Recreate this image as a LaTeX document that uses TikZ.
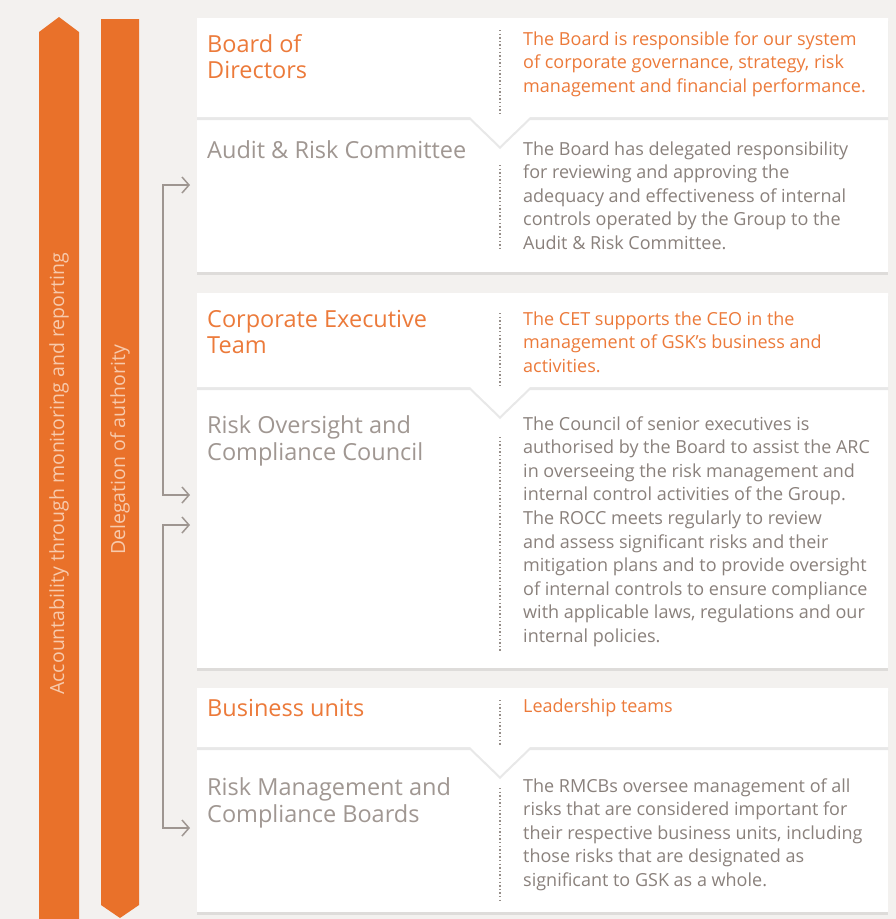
\documentclass[tikz,border=0pt]{standalone}
\usepackage{fontspec}
\setmainfont{Open Sans}
\usepackage{tikz}
\usetikzlibrary{arrows.meta, positioning, shadows}
\definecolor{gskorange}{RGB}{233,113,42}
\definecolor{titleorange}{RGB}{236,122,58}
\definecolor{titlegray}{RGB}{160,151,146}
\definecolor{descgray}{RGB}{138,129,124}
\definecolor{linkgray}{RGB}{158,150,145}
\definecolor{dotgray}{RGB}{150,142,137}
\definecolor{pagegray}{RGB}{243,241,239}
\definecolor{bartext}{RGB}{247,202,172}
\tikzstyle{bar} = [fill=gskorange]
\tikzstyle{barlabel} = [rotate=90, text=bartext, inner sep=0pt, font=\fontsize{19.5}{22}\selectfont]
\tikzstyle{panel} = [fill=white, drop shadow={shadow xshift=0pt, shadow yshift=-3pt, opacity=0.18}]
\tikzstyle{headtitle} = [anchor=base west, inner sep=0pt, align=left, text=titleorange, font=\fontsize{23.5}{26.5}\selectfont]
\tikzstyle{subtitle} = [headtitle, text=titlegray]
\tikzstyle{leaddesc} = [anchor=base west, inner sep=0pt, align=left, text=titleorange, font=\fontsize{18}{23.6}\selectfont]
\tikzstyle{desc} = [leaddesc, text=descgray]
\tikzstyle{dots} = [draw=dotgray, line width=1.6pt, dash pattern=on 1.4pt off 2.2pt]
\tikzstyle{link} = [draw=linkgray, line width=1.5pt, {Straight Barb[length=7pt,width=16pt]}-{Straight Barb[length=7pt,width=16pt]}]
\begin{document}
\begin{tikzpicture}[x=1pt, y=-1pt]
    \useasboundingbox[fill=pagegray] (0,0) rectangle (896,919);

    % the two orange bars
    \fill[bar] (39,919) -- (39,32) -- (59,17) -- (79,32) -- (79,919) -- cycle;
    \fill[bar] (101,19) -- (139,19) -- (139,905) -- (120,918) -- (101,905) -- cycle;
    \node (account) [barlabel] at (59,474) {Accountability through monitoring and reporting};
    \node (delegate) [barlabel] at (120,450) {Delegation of authority};

    % panels: lower part first, then the upper part with its notch
    \foreach \ya/\yb/\yc in {18/117/272, 293/387/668, 688/747/912} {
        \fill[panel] (197,\yb) rectangle (888,\yc);
        \fill[panel] (197,\ya) -- (888,\ya) -- (888,\yb) -- (530,\yb) -- (500,\yb+29) -- (470,\yb) -- (197,\yb) -- cycle;
    }

    \draw[dots] (500,30) -- (500,114);
    \draw[dots] (500,165) -- (500,250);
    \draw[dots] (500,313) -- (500,386);
    \draw[dots] (500,437) -- (500,652);
    \draw[dots] (500,700) -- (500,745);
    \draw[dots] (500,788) -- (500,900);

    % titles (anchored on the baseline of their last line)
    \node (board) [headtitle] at (207,78.5) {Board of\\Directors};
    \node (arc) [subtitle] at (207,158) {Audit \& Risk Committee};
    \node (cet) [headtitle] at (207,353.5) {Corporate Executive\\Team};
    \node (rocc) [subtitle] at (207,460) {Risk Oversight and\\Compliance Council};
    \node (units) [headtitle] at (207,716) {Business units};
    \node (rmcb) [subtitle] at (207,822) {Risk Management and\\Compliance Boards};

    % descriptions
    \node (boardtxt) [leaddesc] at (523,92.2) {The Board is responsible for our system\\of corporate governance, strategy, risk\\management and financial performance.};
    \node (arctxt) [desc] at (523,249.4) {The Board has delegated responsibility\\for reviewing and approving the\\adequacy and effectiveness of internal\\controls operated by the Group to the\\Audit \& Risk Committee.};
    \node (cettxt) [leaddesc] at (523,372.2) {The CET supports the CEO in the\\management of GSK's business and\\activities.};
    \node (rocctxt) [desc] at (523,642.4) {The Council of senior executives is\\authorised by the Board to assist the ARC\\in overseeing the risk management and\\internal control activities of the Group.\\The ROCC meets regularly to review\\and assess significant risks and their\\mitigation plans and to provide oversight\\of internal controls to ensure compliance\\with applicable laws, regulations and our\\internal policies.};
    \node (unitstxt) [leaddesc] at (523,712) {Leadership teams};
    \node (rmcbtxt) [desc] at (523,886.4) {The RMCBs oversee management of all\\risks that are considered important for\\their respective business units, including\\those risks that are designated as\\significant to GSK as a whole.};

    % delegation links
    \coordinate (arcin) at (190,185);
    \coordinate (roccin) at (190,495);
    \coordinate (roccout) at (190,525);
    \coordinate (rmcbin) at (190,828);
    \draw[link] (arcin) -- ++(-27,0) |- (roccin);
    \draw[link] (roccout) -- ++(-27,0) |- (rmcbin);
\end{tikzpicture}
\end{document}
